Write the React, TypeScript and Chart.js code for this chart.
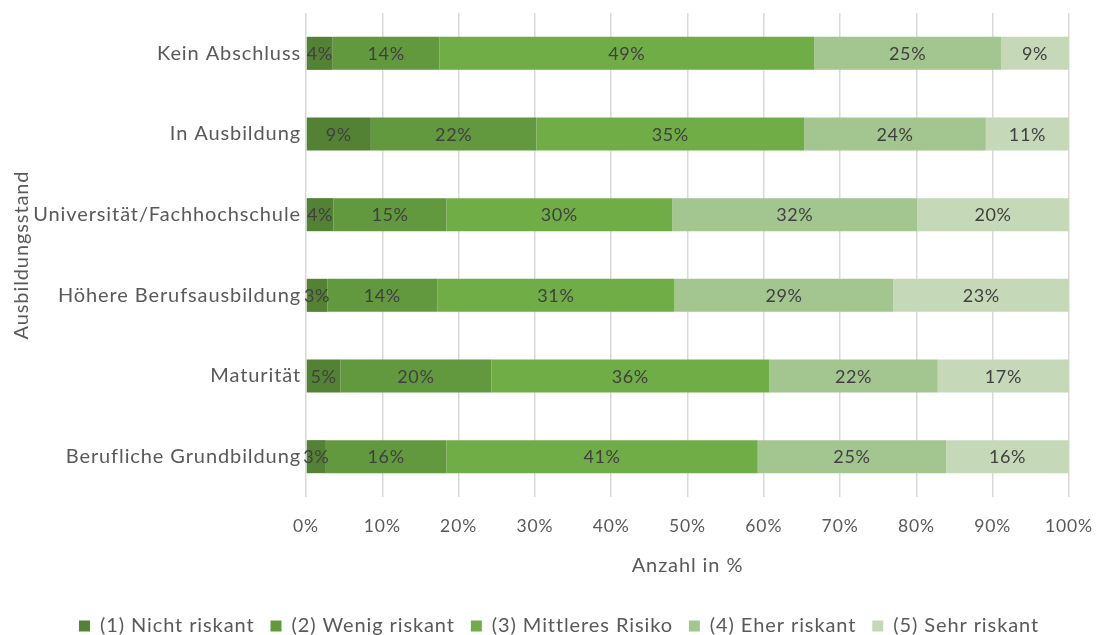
import React, { useEffect, useRef } from "react";
import { Chart, registerables } from "chart.js";

Chart.register(...registerables);

const categories = [
  "Kein Abschluss",
  "In Ausbildung",
  "Universität/Fachhochschule",
  "Höhere Berufsausbildung",
  "Maturität",
  "Berufliche Grundbildung",
];
const seriesNames = [
  "(1) Nicht riskant",
  "(2) Wenig riskant",
  "(3) Mittleres Risiko",
  "(4) Eher riskant",
  "(5) Sehr riskant",
];
const nichtRiskant = [3.5, 8.5, 3.6, 2.8, 4.5, 2.6];
const wenigRiskant = [14.0, 21.7, 14.8, 14.4, 19.8, 15.8];
const mittleresRisiko = [49.1, 35.1, 29.6, 31.1, 36.4, 40.8];
const eherRiskant = [24.5, 23.8, 32.1, 28.7, 22.1, 24.7];
const sehrRiskant = [8.9, 10.9, 19.9, 23.0, 17.2, 16.1];
const xTickValues = [0, 10, 20, 30, 40, 50, 60, 70, 80, 90, 100];
const seriesColors = ["#548235", "#62993E", "#70AD47", "#A3C58F", "#C5D9B9"];

const FONT = "Lato, 'Open Sans', sans-serif";
const LETTER_SPACING = "0.9px";
const BOTTOM_PAD = -11;

const spacingPlugin = {
  id: "spacing",
  beforeUpdate(chart: any) {
    (chart.ctx as any).letterSpacing = LETTER_SPACING;
  },
  beforeLayout(chart: any) {
    (chart.ctx as any).letterSpacing = LETTER_SPACING;
  },
  afterLayout(chart: any) {
    const lg = chart.legend;
    if (lg) {
      const d = 559 - (lg.left + lg.right) / 2;
      lg.left += d;
      lg.right += d;
    }
  },
  beforeDraw(chart: any) {
    (chart.ctx as any).letterSpacing = LETTER_SPACING;
  },
};

const segmentLabels = {
  id: "segmentLabels",
  afterDatasetsDraw(chart: any) {
    const ctx = chart.ctx;
    ctx.save();
    (ctx as any).letterSpacing = "0.6px";
    ctx.font = `18px ${FONT}`;
    ctx.fillStyle = "#404040";
    ctx.textAlign = "center";
    ctx.textBaseline = "middle";
    chart.data.datasets.forEach((ds: any, i: number) => {
      const meta = chart.getDatasetMeta(i);
      meta.data.forEach((el: any, j: number) => {
        const p = el.getCenterPoint();
        ctx.fillText(Math.round(ds.data[j]) + "%", p.x, p.y + 1);
      });
    });
    ctx.restore();
  },
};

export default function App() {
  const ref = useRef<HTMLCanvasElement | null>(null);

  useEffect(() => {
    if (!ref.current) return;
    const seriesData = [nichtRiskant, wenigRiskant, mittleresRisiko, eherRiskant, sehrRiskant];
    const chart = new Chart(ref.current, {
      type: "bar",
      data: {
        labels: categories,
        datasets: seriesNames.map((name, i) => ({
          label: name,
          data: seriesData[i],
          backgroundColor: seriesColors[i],
          borderWidth: 0,
          categoryPercentage: 1,
          barPercentage: 0.41,
        })),
      },
      options: {
        indexAxis: "y",
        animation: false,
        responsive: false,
        devicePixelRatio: 1,
        layout: { padding: { top: 13, right: 27, left: 0, bottom: BOTTOM_PAD } },
        plugins: {
          legend: {
            position: "bottom",
            labels: {
              boxWidth: 11,
              boxHeight: 11,
              padding: 16,
              color: "#595959",
              font: { family: FONT, size: 20 },
            },
          },
          tooltip: { enabled: false },
        },
        scales: {
          x: {
            stacked: true,
            min: 0,
            max: 100,
            afterBuildTicks: (scale: any) => {
              scale.ticks = xTickValues.map((v) => ({ value: v }));
            },
            afterFit: (scale: any) => {
              const lh = scale.chart.legend ? scale.chart.legend.height : 40;
              scale.height = scale.chart.height - BOTTOM_PAD - lh - 497;
              scale.paddingLeft = 0;
              scale.paddingRight = 0;
            },
            grid: { color: "#D9D9D9", lineWidth: 1.5, drawTicks: false },
            border: { display: false },
            ticks: {
              padding: 19,
              color: "#595959",
              font: { family: FONT, size: 17.5 },
              callback: (v: any) => v + "%",
            },
            title: {
              display: true,
              text: "Anzahl in %",
              color: "#595959",
              font: { family: FONT, size: 20 },
              padding: { top: 0, bottom: 22 },
            },
          },
          y: {
            stacked: true,
            afterFit: (scale: any) => {
              scale.width = 306;
              scale.paddingTop = 0;
              scale.paddingBottom = 0;
            },
            grid: { display: false, drawTicks: false },
            border: { display: false },
            ticks: {
              padding: 5,
              color: "#595959",
              font: { family: FONT, size: 20 },
            },
            title: {
              display: true,
              text: "Ausbildungsstand",
              color: "#595959",
              font: { family: FONT, size: 20 },
              padding: { top: 10, bottom: 0 },
            },
          },
        },
      },
      plugins: [spacingPlugin, segmentLabels],
    } as any);
    return () => chart.destroy();
  }, []);

  return (
    <div style={{ position: "absolute", left: 0, top: 0, width: 1096, height: 635, background: "#fff" }}>
      <canvas ref={ref} width={1096} height={635} />
    </div>
  );
}
